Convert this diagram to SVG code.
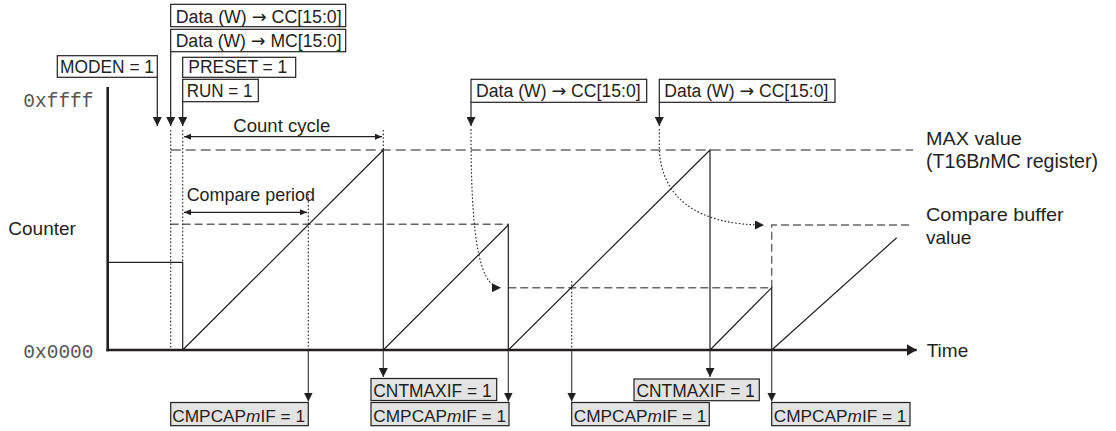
<svg xmlns="http://www.w3.org/2000/svg" width="1116" height="431" viewBox="0 0 1116 431">
<style>
.box{fill:#fff;stroke:#231f20;stroke-width:1.2}
.gbox{fill:#e3e3e3;stroke:#231f20;stroke-width:1.2}
.bt{font-family:"Liberation Sans",Arial,sans-serif;font-size:18px;fill:#231f20}
.ct{font-family:"Liberation Sans",Arial,sans-serif;font-size:17.25px;fill:#231f20}
.ar{font-family:"DejaVu Sans",sans-serif}
.lb{font-family:"Liberation Sans",Arial,sans-serif;font-size:19px;fill:#231f20}
.mono{font-family:"Liberation Mono","Courier New",monospace;font-size:19.5px;fill:#555}
.ln{stroke:#231f20;stroke-width:1.2;fill:none}
.axis{stroke:#231f20;stroke-width:2.6;fill:none}
.dot{stroke:#231f20;stroke-width:1.1;stroke-dasharray:1.6 2;fill:none}
.dmax{stroke:#231f20;stroke-width:1.2;stroke-dasharray:10 5;fill:none}
.dcmp{stroke:#666;stroke-width:1.4;stroke-dasharray:8 4;fill:none}
.low{stroke:#4a4446;stroke-width:1.2;fill:none}
</style>
<defs>
<marker id="ah" viewBox="0 0 9 9" refX="9" refY="4.5" markerWidth="9" markerHeight="9" markerUnits="userSpaceOnUse" orient="auto">
<path d="M0,0 L9,4.5 L0,9 z" fill="#231f20"/>
</marker>
<marker id="sm" viewBox="0 0 7 6" refX="7" refY="3" markerWidth="7" markerHeight="6" markerUnits="userSpaceOnUse" orient="auto-start-reverse">
<path d="M0,0 L7,3 L0,6 z" fill="#231f20"/>
</marker>
<marker id="big" viewBox="0 0 10 12" refX="10" refY="6" markerWidth="10" markerHeight="12" markerUnits="userSpaceOnUse" orient="auto">
<path d="M0,0 L10,6 L0,12 z" fill="#231f20"/>
</marker>
</defs>

<g id="axes">
<line class="axis" x1="107.7" y1="87" x2="107.7" y2="351.3"/>
<line class="axis" x1="106.4" y1="350" x2="916.7" y2="350" marker-end="url(#big)"/>
<text class="mono" x="23.3" y="107">0xffff</text>
<text class="mono" x="23.3" y="358">0x0000</text>
<text class="lb" x="8.3" y="235">Counter</text>
<text class="lb" x="926.7" y="356.7">Time</text>
</g>

<g id="levels">
<line class="dmax" x1="170.7" y1="150" x2="913" y2="150"/>
<path class="dcmp" d="M170.7,224.3 H508.3"/>
<path class="dcmp" d="M508.3,287.7 H771.7"/>
<path class="dcmp" d="M771.7,287.7 V225 H913"/>
<text class="lb" x="926" y="145" textLength="95.7" lengthAdjust="spacingAndGlyphs">MAX value</text>
<text class="lb" x="926" y="168" style="font-size:19.6px">(T16B<tspan font-style="italic">n</tspan>MC register)</text>
<text class="lb" x="926" y="221" textLength="137.7" lengthAdjust="spacingAndGlyphs">Compare buffer</text>
<text class="lb" x="926" y="244">value</text>
</g>

<g id="counter">
<path class="ln" d="M107.7,262.3 H182.7 V350"/>
<path class="ln" d="M182.7,350 L383.3,150 V350"/>
<path class="ln" d="M383.3,350 L508.3,225 V350"/>
<path class="ln" d="M508.3,350 L710,150 V350"/>
<path class="ln" d="M710,350 L771.7,287.7 V350"/>
<path class="ln" d="M771.7,350 L896.7,237.7"/>
</g>

<g id="periods">
<line class="dot" x1="170.7" y1="130" x2="170.7" y2="350"/>
<line class="dot" x1="182.7" y1="130" x2="182.7" y2="262"/>
<line class="dot" x1="383.3" y1="130" x2="383.3" y2="150"/>
<line class="dot" x1="308.3" y1="194" x2="308.3" y2="350"/>
<line class="dot" x1="571.7" y1="281" x2="571.7" y2="350"/>
<line class="ln" x1="184" y1="136.7" x2="382" y2="136.7" marker-start="url(#sm)" marker-end="url(#sm)"/>
<text class="lb" x="233.3" y="131.7" textLength="97" lengthAdjust="spacingAndGlyphs">Count cycle</text>
<line class="ln" x1="184" y1="212.3" x2="307" y2="212.3" marker-start="url(#sm)" marker-end="url(#sm)"/>
<text class="lb" x="186.7" y="201" textLength="128.3" lengthAdjust="spacingAndGlyphs">Compare period</text>
</g>

<g id="connectors">
<line class="ln" x1="157.3" y1="77.3" x2="157.3" y2="126" marker-end="url(#ah)"/>
<line class="ln" x1="170.7" y1="51.7" x2="170.7" y2="126" marker-end="url(#ah)"/>
<line class="ln" x1="182.7" y1="101.7" x2="182.7" y2="126" marker-end="url(#ah)"/>
<line class="ln" x1="471" y1="102.3" x2="471" y2="126" marker-end="url(#ah)"/>
<line class="ln" x1="659.3" y1="102.3" x2="659.3" y2="126" marker-end="url(#ah)"/>
<path class="dot" d="M471,129 C471,220 476,287.7 501,287.7" marker-end="url(#ah)"/>
<path class="dot" d="M659.3,129 V150 C662,200 700,225 764,225" marker-end="url(#ah)"/>
<line class="low" x1="308.3" y1="351" x2="308.3" y2="401.5" marker-end="url(#ah)"/>
<line class="low" x1="383.3" y1="351" x2="383.3" y2="377" marker-end="url(#ah)"/>
<line class="low" x1="508.3" y1="351" x2="508.3" y2="401.5" marker-end="url(#ah)"/>
<line class="low" x1="571.7" y1="351" x2="571.7" y2="401.5" marker-end="url(#ah)"/>
<line class="low" x1="710" y1="351" x2="710" y2="377" marker-end="url(#ah)"/>
<line class="low" x1="771.7" y1="351" x2="771.7" y2="401.5" marker-end="url(#ah)"/>
</g>

<g id="box-cc1">
<rect class="box" x="170.7" y="4.3" width="175" height="22.4"/>
<text class="bt" x="175.7" y="22.7" textLength="166" lengthAdjust="spacingAndGlyphs">Data (W) <tspan class="ar">→</tspan> CC[15:0]</text>
</g>
<g id="box-mc">
<rect class="box" x="170.7" y="29.3" width="175" height="22.4"/>
<text class="bt" x="175.7" y="47.3" textLength="166" lengthAdjust="spacingAndGlyphs">Data (W) <tspan class="ar">→</tspan> MC[15:0]</text>
</g>
<g id="box-moden">
<rect class="box" x="57.3" y="55.7" width="100" height="21.6"/>
<text class="bt" x="60" y="72.7" textLength="94" lengthAdjust="spacingAndGlyphs">MODEN = 1</text>
</g>
<g id="box-preset">
<rect class="box" x="182.7" y="57.3" width="113" height="20"/>
<text class="bt" x="188.3" y="72.7" textLength="99" lengthAdjust="spacingAndGlyphs">PRESET = 1</text>
</g>
<g id="box-run">
<rect class="box" x="182.7" y="79.3" width="75.6" height="22.4"/>
<text class="bt" x="186.7" y="96.7" textLength="65.7" lengthAdjust="spacingAndGlyphs">RUN = 1</text>
</g>
<g id="box-cc2">
<rect class="box" x="471" y="79.3" width="175.7" height="23"/>
<text class="bt" x="476" y="97.3" textLength="164.7" lengthAdjust="spacingAndGlyphs">Data (W) <tspan class="ar">→</tspan> CC[15:0]</text>
</g>
<g id="box-cc3">
<rect class="box" x="659.3" y="79.3" width="175.7" height="23"/>
<text class="bt" x="664.3" y="97.3" textLength="164" lengthAdjust="spacingAndGlyphs">Data (W) <tspan class="ar">→</tspan> CC[15:0]</text>
</g>

<g id="flag-cmp1">
<rect class="gbox" x="170.7" y="402.5" width="137.6" height="23.2"/>
<text class="ct" x="172.3" y="421.7">CMPCAP<tspan font-style="italic">m</tspan>IF = 1</text>
</g>
<g id="flag-max1">
<rect class="gbox" x="371" y="378.5" width="125.7" height="22"/>
<text class="bt" x="373.3" y="396.7" textLength="118.3" lengthAdjust="spacingAndGlyphs">CNTMAXIF = 1</text>
</g>
<g id="flag-cmp2">
<rect class="gbox" x="371" y="402.5" width="138" height="23.2"/>
<text class="ct" x="373.3" y="421.7">CMPCAP<tspan font-style="italic">m</tspan>IF = 1</text>
</g>
<g id="flag-cmp3">
<rect class="gbox" x="571.7" y="402.5" width="137.6" height="23.2"/>
<text class="ct" x="573.7" y="421.7">CMPCAP<tspan font-style="italic">m</tspan>IF = 1</text>
</g>
<g id="flag-max2">
<rect class="gbox" x="634" y="379" width="125.3" height="21.7"/>
<text class="bt" x="636.5" y="396.7" textLength="118.3" lengthAdjust="spacingAndGlyphs">CNTMAXIF = 1</text>
</g>
<g id="flag-cmp4">
<rect class="gbox" x="771.7" y="402.5" width="138.3" height="23.2"/>
<text class="ct" x="773.7" y="421.7">CMPCAP<tspan font-style="italic">m</tspan>IF = 1</text>
</g>
</svg>
